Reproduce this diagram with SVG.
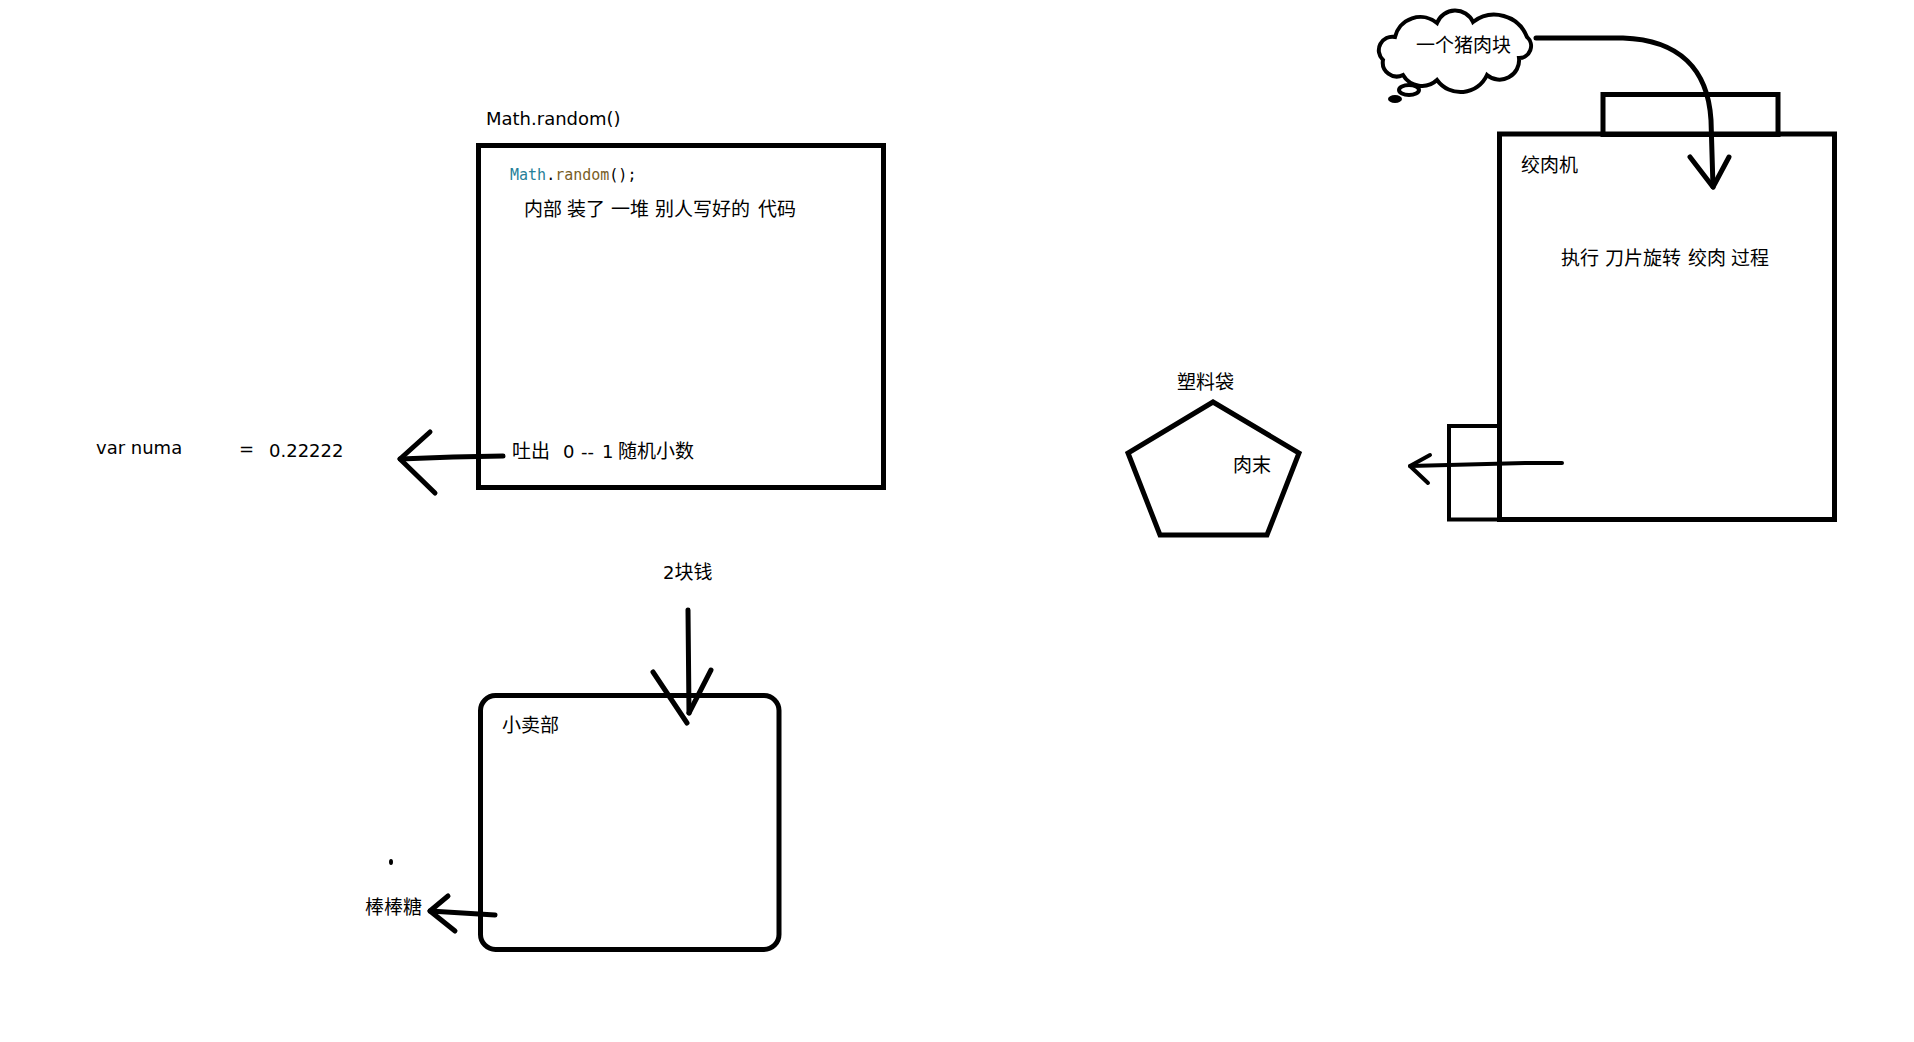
<svg xmlns="http://www.w3.org/2000/svg" width="1914" height="1042" viewBox="0 0 1914 1042">
<style>
.t{font-family:"DejaVu Sans","Noto Sans CJK SC",sans-serif;font-size:18px;fill:#000}
.c{font-family:"Noto Sans CJK SC","DejaVu Sans",sans-serif;font-size:19px;fill:#000}
.code{font-family:"DejaVu Sans Mono","Liberation Mono",monospace;font-size:15px}
.box{fill:none;stroke:#000;stroke-width:5}
.thin{fill:none;stroke:#000;stroke-width:4}
.ln{fill:none;stroke:#000;stroke-width:5;stroke-linecap:round;stroke-linejoin:round}
.ln4{fill:none;stroke:#000;stroke-width:4;stroke-linecap:round;stroke-linejoin:round}
</style>
<rect x="0" y="0" width="1914" height="1042" fill="#fff"/>

<g id="math-random">
  <text class="t" x="486" y="125">Math.random()</text>
  <rect class="box" x="478.5" y="145.5" width="405" height="342"/>
  <text class="code" x="510" y="180"><tspan fill="#267f99">Math</tspan><tspan fill="#000">.</tspan><tspan fill="#795e26">random</tspan><tspan fill="#000">();</tspan></text>
  <text class="c" y="215.5"><tspan x="524">内部 </tspan><tspan x="567">装了 </tspan><tspan x="611">一堆 </tspan><tspan x="655">别人写好的 </tspan><tspan x="758">代码</tspan></text>
  <text class="c" y="457.5"><tspan x="512">吐出  </tspan><tspan x="563" font-family="DejaVu Sans" font-size="18">0 </tspan><tspan x="581" font-family="DejaVu Sans" font-size="18">-- </tspan><tspan x="602" font-family="DejaVu Sans" font-size="18">1 </tspan><tspan x="618">随机小数</tspan></text>
</g>

<g id="result">
  <text class="t" x="96" y="454">var numa</text>
  <text class="t" x="239" y="455">=</text>
  <text class="t" x="269" y="456.5" font-size="17">0.22222</text>
</g>

<g id="cloud">
  <path class="thin" d="M1383,60 A13.5,13.5 0 0 1 1395,37 A26,26 0 0 1 1437,23 A19.5,19.5 0 0 1 1473,22 A35,35 0 0 1 1527,37 A12,12 0 0 1 1519,58 A19.5,19.5 0 0 1 1487,75 A29,29 0 0 1 1437,80 A22,22 0 0 1 1403,75 A14,14 0 0 1 1383,60 Z"/>
  <ellipse class="thin" cx="1409" cy="90" rx="10" ry="5"/>
  <ellipse cx="1395" cy="99" rx="7" ry="4" fill="#000"/>
  <text class="c" x="1416" y="51.5">一个猪肉块</text>
</g>

<g id="grinder">
  <rect class="box" x="1603" y="94.5" width="175" height="40"/>
  <rect class="box" x="1499.5" y="134" width="335" height="385.5"/>
  <text class="c" x="1521" y="171.5">绞肉机</text>
  <text class="c" y="264.5"><tspan x="1561">执行 </tspan><tspan x="1605">刀片旋转 </tspan><tspan x="1688">绞肉 </tspan><tspan x="1731">过程</tspan></text>
</g>

<g id="outlet">
  <rect class="thin" x="1449" y="426" width="50.5" height="93.5"/>
</g>

<g id="bag">
  <text class="c" x="1177" y="388.5">塑料袋</text>
  <polygon class="box" points="1213,402 1299,453 1267,535 1160,535 1128,453" stroke-linejoin="miter"/>
  <text class="c" x="1233" y="471.5">肉末</text>
</g>

<g id="shop">
  <text class="t" x="663" y="579">2<tspan font-family="Noto Sans CJK SC" font-size="19">块钱</tspan></text>
  <rect class="box" x="480.5" y="695.5" width="298.5" height="254" rx="15" ry="15"/>
  <text class="c" x="502" y="731.5">小卖部</text>
  <ellipse cx="391" cy="862" rx="2" ry="3" fill="#000"/>
  <text class="c" x="365" y="913.5">棒棒糖</text>
</g>

<g id="connectors">
  <path class="ln" d="M503,456 L453,457 L400,459"/>
  <path class="ln" d="M430,432 L400,459 L435,493"/>

  <path class="ln" d="M1536,38 L1623,38 C1680,40 1708,70 1711,120 L1713,187"/>
  <path class="ln" d="M1690,157 L1713,187 L1729,157"/>

  <path class="ln4" d="M1562,463 L1525,463 L1410,466"/>
  <path class="ln4" d="M1430,455 L1410,466 L1428,483"/>

  <path class="ln" d="M688,610 L689,713"/>
  <path class="ln" d="M653,672 L687,723"/>
  <path class="ln" d="M711,670 L689,713"/>

  <path class="ln" d="M495,915 L430,911"/>
  <path class="ln" d="M448,896 L430,911 L455,931"/>
</g>
</svg>
